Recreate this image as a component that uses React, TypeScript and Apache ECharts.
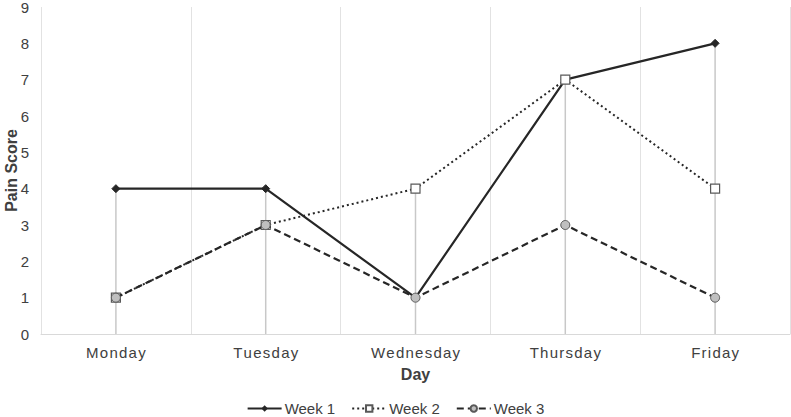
import React, { useEffect, useRef } from "react";
import * as echarts from "echarts";

const days = ["Monday", "Tuesday", "Wednesday", "Thursday", "Friday"];
const week1 = [4, 4, 1, 7, 8];
const week2 = [1, 3, 4, 7, 4];
const week3 = [1, 3, 1, 3, 1];

export default function App() {
  const ref = useRef<HTMLDivElement>(null);
  useEffect(() => {
    const chart = echarts.init(ref.current!, null, { renderer: "svg" });
    const dropHeights = days.map((_, i) => Math.max(week1[i], week2[i], week3[i]));
    const font = "Liberation Sans, Arial, sans-serif";
    chart.setOption({
      animation: false,
      textStyle: { fontFamily: font },
      grid: { left: 41, right: 1, top: 7, bottom: 83, outerBoundsMode: "none", containLabel: false },
      legend: {
        bottom: -4,
        left: "center",
        itemWidth: 34,
        itemHeight: 8,
        itemGap: 16,
        textStyle: { fontSize: 15, color: "#404040", fontFamily: font, padding: [0, 0, 0, -2] },
        data: ["Week 1", "Week 2", "Week 3"],
      },
      xAxis: {
        type: "category",
        data: days,
        boundaryGap: true,
        name: "Day",
        nameLocation: "middle",
        nameGap: 32,
        nameMoveOverlap: false,
        nameTextStyle: { fontSize: 16, fontWeight: "bold", color: "#404040" },
        axisLine: { show: true, lineStyle: { color: "#d9d9d9" } },
        axisTick: { show: false },
        axisLabel: {
          fontSize: 15,
          color: "#404040",
          margin: 11,
          formatter: (v: string) => v.split("").join("\u200A"),
        },
        splitLine: { show: true, lineStyle: { color: "#e2e2e2", width: 1 } },
      },
      yAxis: {
        type: "value",
        min: 0,
        max: 9,
        interval: 1,
        name: "Pain Score",
        nameLocation: "middle",
        nameGap: 22,
        nameMoveOverlap: false,
        nameTextStyle: { fontSize: 16, fontWeight: "bold", color: "#404040" },
        axisLine: { show: false },
        axisTick: { show: false },
        axisLabel: { fontSize: 15, color: "#404040", margin: 12 },
        splitLine: { show: false },
      },
      series: [
        {
          name: "drop",
          type: "bar",
          data: dropHeights,
          barWidth: 1.5,
          silent: true,
          z: 1,
          itemStyle: { color: "#c8c8c8" },
        },
        {
          name: "Week 1",
          type: "line",
          data: week1,
          z: 3,
          symbol: "diamond",
          symbolSize: 8,
          lineStyle: { color: "#262626", width: 2.2, type: "solid" },
          itemStyle: { color: "#262626", borderColor: "#262626" },
        },
        {
          name: "Week 2",
          type: "line",
          data: week2,
          z: 4,
          symbol: "rect",
          symbolSize: 9,
          lineStyle: { color: "#262626", width: 2, type: [2, 3] },
          itemStyle: { color: "#ffffff", borderColor: "#595959", borderWidth: 1.2 },
        },
        {
          name: "Week 3",
          type: "line",
          data: week3,
          z: 5,
          symbol: "circle",
          symbolSize: 9,
          lineStyle: { color: "#262626", width: 2.2, type: [7, 4] },
          itemStyle: { color: "#bfbfbf", borderColor: "#595959", borderWidth: 1 },
        },
      ],
    });
    return () => chart.dispose();
  }, []);
  return <div ref={ref} style={{ width: 791, height: 417, position: "absolute", left: 0, top: 0 }} />;
}
